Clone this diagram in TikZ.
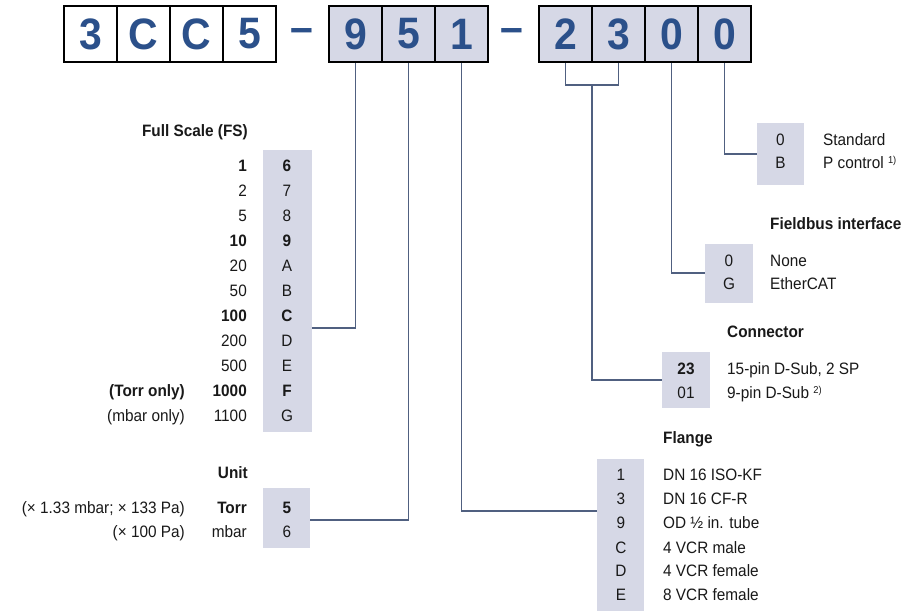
\documentclass[tikz,border=0pt]{standalone}
\usepackage{fontspec}
\setmainfont{Liberation Sans}[FakeStretch=0.93]
\definecolor{codeblue}{RGB}{43,80,138}
\definecolor{codegray}{RGB}{214,216,230}
\definecolor{linecol}{RGB}{80,96,128}
\begin{document}
\begin{tikzpicture}[x=1pt,y=-1pt,
  digitbox/.style={draw=black, line width=2.5pt, minimum width=53pt, minimum height=56pt, inner sep=0pt,
    font=\fontsize{44}{44}\selectfont\bfseries, text=codeblue},
  graydigit/.style={digitbox, fill=codegray},
  whitedigit/.style={digitbox, fill=white},
  dashtext/.style={inner sep=0pt, font=\fontsize{44}{44}\selectfont\bfseries, text=codeblue, anchor=base},
  col/.style={fill=codegray, draw=none, inner sep=0pt},
  lbl/.style={inner sep=0pt, font=\fontsize{16.5}{18}\selectfont, text height=11.8pt, text depth=0pt, text=black!90},
  lr/.style={lbl, anchor=east},
  ll/.style={lbl, anchor=west},
  lc/.style={lbl, anchor=center},
  ttl/.style={lbl, font=\fontsize{16.5}{18}\selectfont\bfseries},
  conn/.style={draw=linecol, line width=1.2pt}
]
\useasboundingbox[fill=white] (0,0) rectangle (910,611);

% ---- top order code ----
\node[whitedigit] (a3) at (90.5,34) {3};
\node[whitedigit] (aC1) at (143.5,34) {C};
\node[whitedigit] (aC2) at (196.5,34) {C};
\node[whitedigit] (a5) at (249.5,34) {5};
\node[dashtext] (d1) at (302,42) {–};
\node[graydigit] (b9) at (355.5,34) {9};
\node[graydigit] (b5) at (408.5,34) {5};
\node[graydigit] (b1) at (461.5,34) {1};
\node[dashtext] (d2) at (512,42) {–};
\node[graydigit] (c2) at (565.5,34) {2};
\node[graydigit] (c3) at (618.5,34) {3};
\node[graydigit] (c0a) at (671.5,34) {0};
\node[graydigit] (c0b) at (724.5,34) {0};

% ---- gray code columns ----
\node[col, minimum width=49pt, minimum height=282pt] (fs) at (287.5,291) {};
\node[col, minimum width=47pt, minimum height=60pt] (un) at (286.5,518) {};
\node[col, minimum width=47pt, minimum height=152pt] (fl) at (620.5,535) {};
\node[col, minimum width=48pt, minimum height=56pt] (cn) at (686,380) {};
\node[col, minimum width=48pt, minimum height=59pt] (fb) at (729,273.5) {};
\node[col, minimum width=47pt, minimum height=62pt] (st) at (780.5,154) {};

% ---- Full Scale ----
\node[ttl, anchor=east] (fst) at (248,131) {Full Scale (FS)};
\foreach \v/\c/\b [count=\i from 0] in {1/6/1, 2/7/0, 5/8/0, 10/9/1, 20/A/0, 50/B/0, 100/C/1, 200/D/0, 500/E/0, 1000/F/1, 1100/G/0}{
  \pgfmathsetmacro{\yy}{166+25*\i}
  \ifnum\b=1
    \node[lr, font=\fontsize{16.5}{18}\selectfont\bfseries] (fsv\i) at (247,\yy) {\v};
    \node[lc, font=\fontsize{16.5}{18}\selectfont\bfseries] (fsc\i) at (287,\yy) {\c};
  \else
    \node[lr] (fsv\i) at (247,\yy) {\v};
    \node[lc] (fsc\i) at (287,\yy) {\c};
  \fi
}
\node[lr, font=\fontsize{16.5}{18}\selectfont\bfseries] (torronly) at (185,391) {(Torr only)};
\node[lr] (mbaronly) at (185,416) {(mbar only)};

% ---- Unit ----
\node[ttl, anchor=east] (unt) at (248,473) {Unit};
\node[lr, font=\fontsize{16.5}{18}\selectfont\bfseries] (torr) at (247,508) {Torr};
\node[lc, font=\fontsize{16.5}{18}\selectfont\bfseries] (u5) at (287,508) {5};
\node[lr] (torrnote) at (185,508) {(× 1.33 mbar; × 133 Pa)};
\node[lr] (mbar) at (247,532) {mbar};
\node[lc] (u6) at (287,532) {6};
\node[lr] (mbarnote) at (185,532) {(× 100 Pa)};

% ---- Flange ----
\node[ttl, anchor=west] (flt) at (663,438) {Flange};
\foreach \c/\t/\yy [count=\i] in {1/DN 16 ISO-KF/475, 3/DN 16 CF-R/499, 9/OD ½ in. tube/523, C/4 VCR male/548, D/4 VCR female/571, E/8 VCR female/595}{
  \node[lc] (flc\i) at (621,\yy) {\c};
  \node[ll] (fll\i) at (663,\yy) {\t};
}

% ---- Connector ----
\node[ttl, anchor=west] (cnt) at (727,332) {Connector};
\node[lc, font=\fontsize{16.5}{18}\selectfont\bfseries] (cn23) at (686,369) {23};
\node[ll] (cnl1) at (727,369) {15-pin D-Sub, 2 SP};
\node[lc] (cn01) at (686,393) {01};
\node[ll] (cnl2) at (727,393) {9-pin D-Sub \raisebox{5pt}{\fontsize{10}{10}\selectfont 2)}};

% ---- Fieldbus ----
\node[ttl, anchor=west] (fbt) at (770,224) {Fieldbus interface};
\node[lc] (fb0) at (729,261) {0};
\node[ll] (fbl1) at (770,261) {None};
\node[lc] (fbG) at (729,284) {G};
\node[ll] (fbl2) at (770,284) {EtherCAT};

% ---- Standard ----
\node[lc] (st0) at (780.5,140) {0};
\node[ll] (stl1) at (823,140) {Standard};
\node[lc] (stB) at (780.5,163) {B};
\node[ll] (stl2) at (823,163) {P control \raisebox{5pt}{\fontsize{10}{10}\selectfont 1)}};

% ---- connectors ----
\coordinate (jfs) at (fs.east |- 0,328);
\coordinate (jun) at (un.east |- 0,520);
\coordinate (jfl) at (fl.west |- 0,511);
\coordinate (jcn) at (cn.west);
\coordinate (jfb) at (fb.west |- 0,273);
\coordinate (jst) at (st.west);
\coordinate (br) at (592,85);

\draw[conn] (b9.south) |- (jfs);
\draw[conn] (b5.south) |- (jun);
\draw[conn] (b1.south) |- (jfl);
\draw[conn] (c2.south) |- (br) -| (c3.south);
\draw[conn] (br) |- (jcn);
\draw[conn] (c0a.south) |- (jfb);
\draw[conn] (c0b.south) |- (jst);
\end{tikzpicture}
\end{document}
